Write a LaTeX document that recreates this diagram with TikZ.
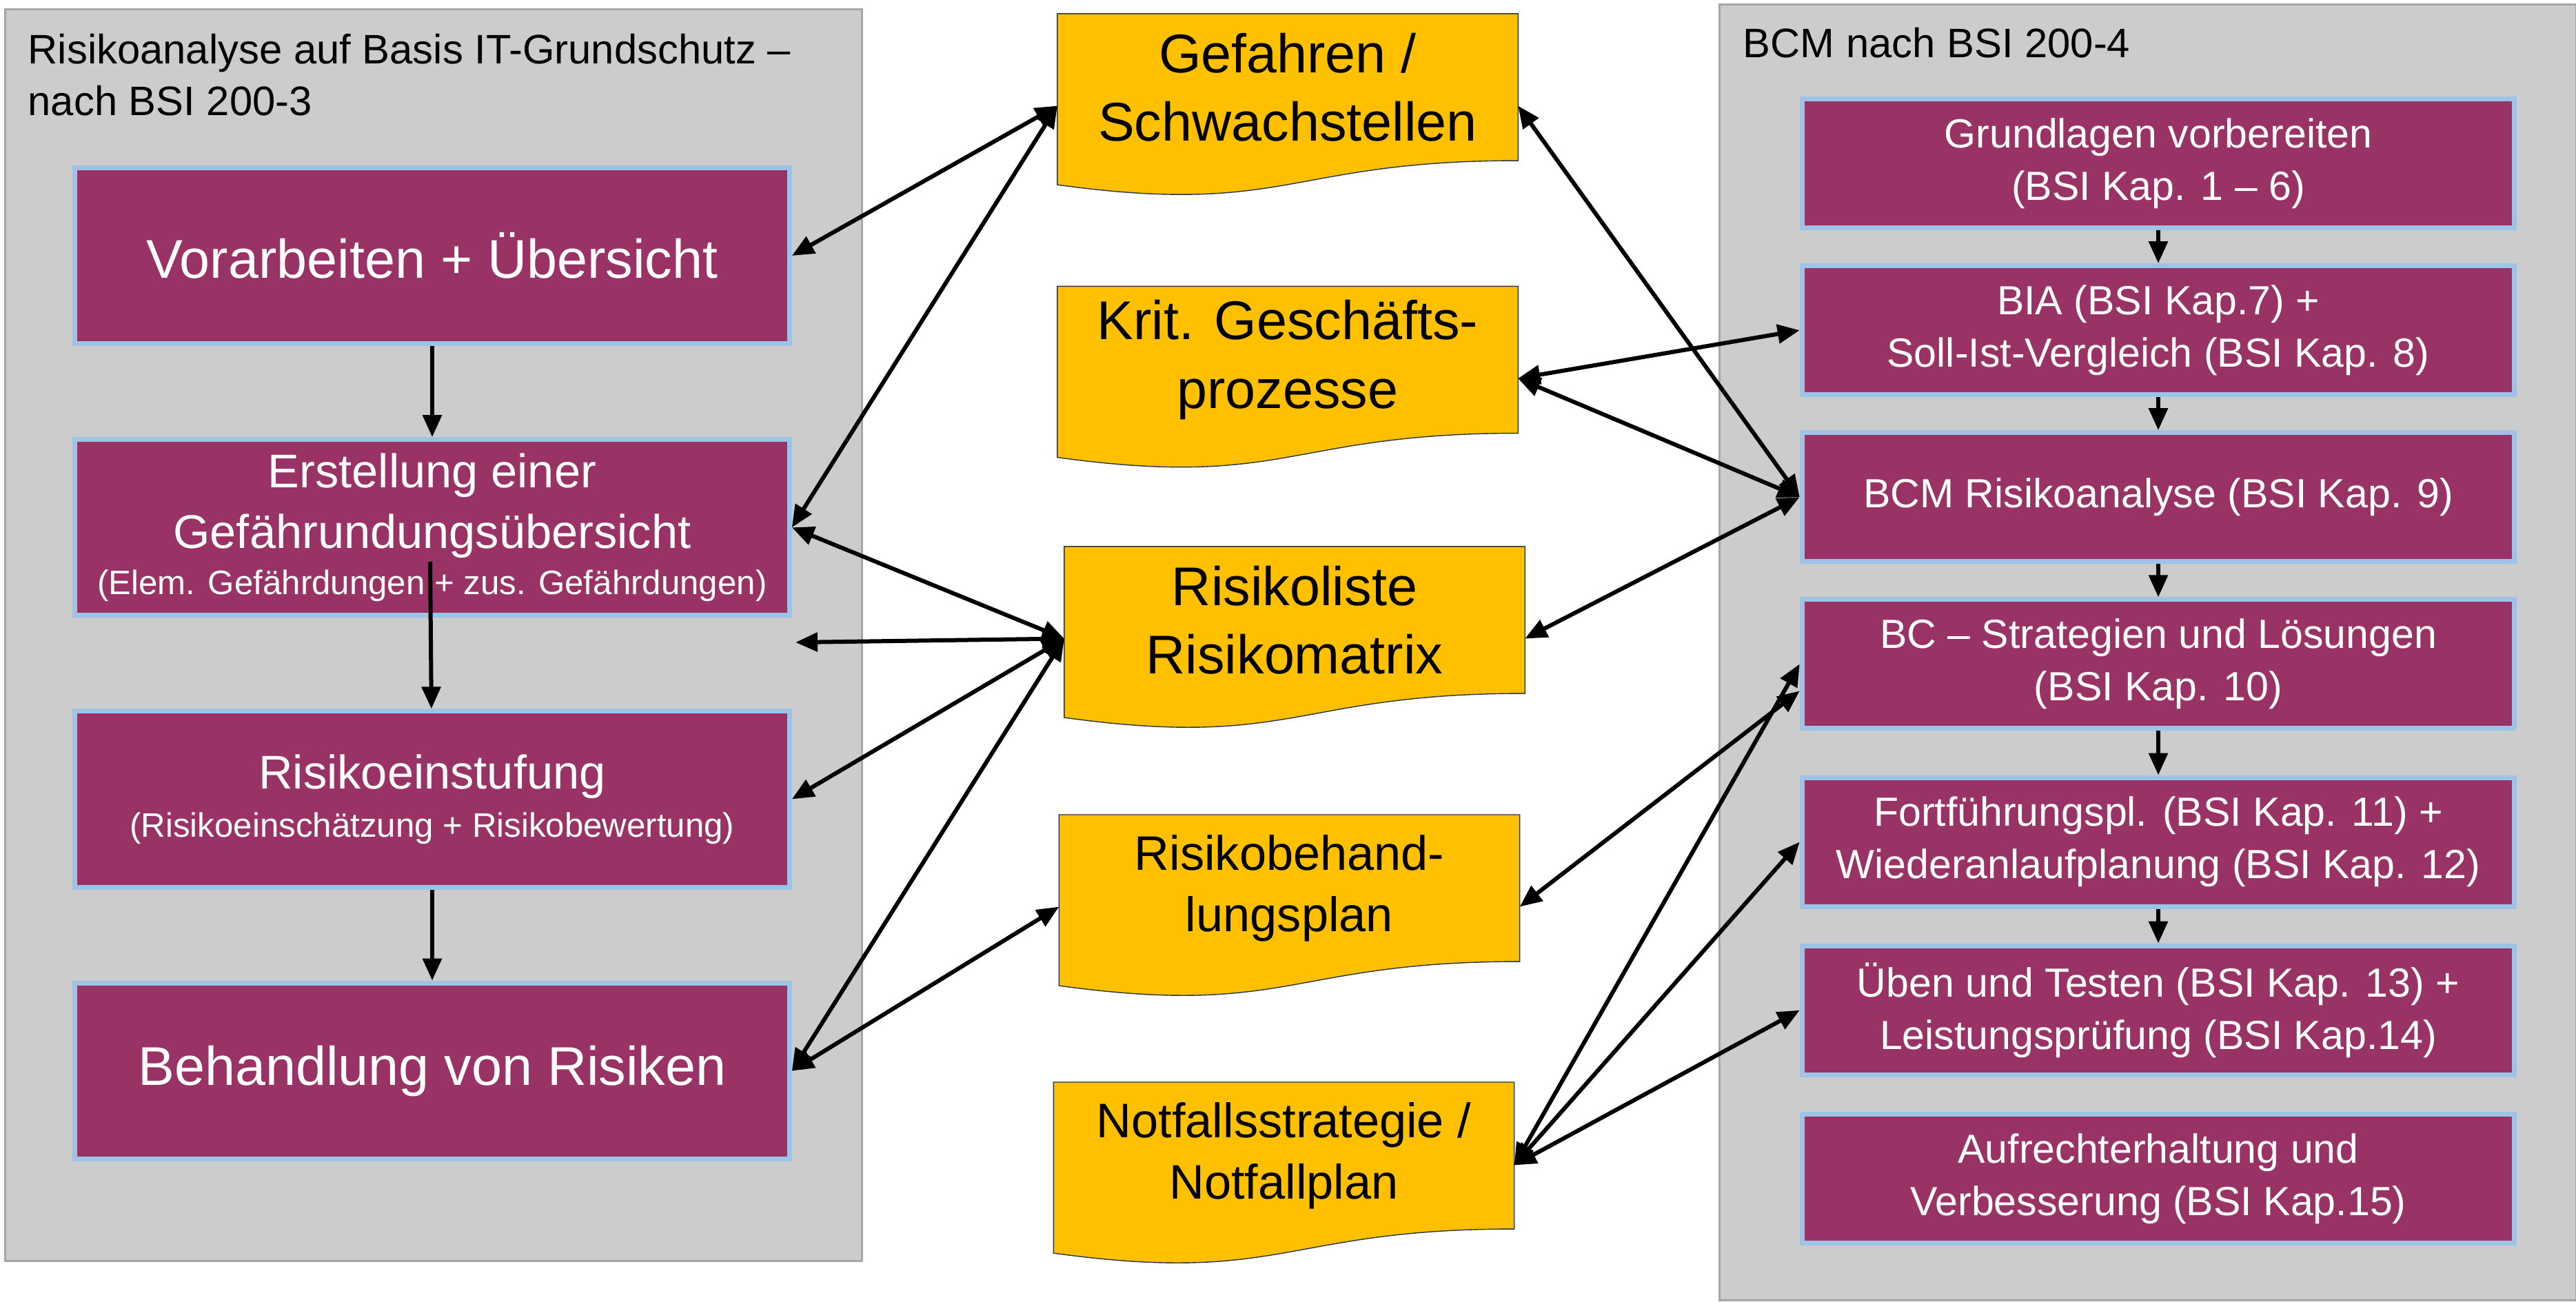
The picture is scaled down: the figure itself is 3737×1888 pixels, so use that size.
\documentclass[tikz,border=0pt]{standalone}
\usepackage{fontspec}
\setmainfont{Liberation Sans}
\usetikzlibrary{arrows.meta,positioning,calc,backgrounds}
\definecolor{phasecol}{RGB}{153,51,102}
\definecolor{phaseline}{RGB}{157,195,230}
\definecolor{grpfill}{RGB}{204,204,204}
\definecolor{grpline}{RGB}{166,166,166}
\definecolor{doccol}{RGB}{255,192,0}
\definecolor{docline}{RGB}{38,52,78}
\tikzset{
  grp/.style       = {rectangle, draw=grpline, line width=0.03cm, fill=grpfill,
                      anchor=north west, inner sep=0pt, minimum width=12.42cm,
                      minimum height=#1},
  grptitle/.style  = {anchor=north west, align=left, inner sep=0pt,
                      font=\fontsize{17}{21.6}\selectfont},
  phase/.style     = {rectangle, draw=phaseline, line width=0.07cm, fill=phasecol,
                      text=white, align=center, minimum width=10.36cm,
                      minimum height=2.55cm, font=\fontsize{#1}{25}\selectfont},
  bcmstep/.style   = {rectangle, draw=phaseline, line width=0.07cm, fill=phasecol,
                      text=white, align=center, minimum width=10.33cm,
                      minimum height=1.87cm, font=\fontsize{16.8}{21.6}\selectfont},
  doc/.style       = {rectangle, minimum width=6.68cm, minimum height=2.13cm,
                      outer sep=0pt, inner sep=0pt, align=center,
                      font=\fontsize{22.5}{28.2}\selectfont},
  doc small/.style = {doc, font=\fontsize{20}{25.3}\selectfont},
  docshape/.style  = {fill=doccol, draw=docline, line width=0.4pt},
  flow/.style      = {->, line width=0.06cm},
  dflow/.style     = {<->, line width=0.06cm},
}
\newcommand{\subtxt}{\fontsize{14}{19}\selectfont}

\begin{document}
\begin{tikzpicture}[x=0.01cm, y=-0.01cm, >={Triangle[length=0.32cm,width=0.27cm]},
                    node distance=1.32cm]
  \useasboundingbox (0,0) rectangle (3737,1888);

  % left column: risk analysis
  \node[phase=22.5] (vor) at (627,371) {Vorarbeiten + Übersicht};
  \node[phase=19.5, below=of vor] (erst)
       {Erstellung einer\\ Gefährundungsübersicht\\[-6pt]
        {\subtxt (Elem. Gefährdungen + zus. Gefährdungen)}};
  \node[phase=19.5, below=of erst] (ein)
       {Risikoeinstufung\\[-5pt] {\subtxt (Risikoeinschätzung + Risikobewertung)}};
  \node[phase=22.5, below=of ein] (beh) {Behandlung von Risiken};
  \coordinate (erstin) at (624,815);
  \coordinate (frei) at (1154,932);

  % middle: documents
  \node[doc] (gef)  at (1868,126.5) {Gefahren /\\ Schwachstellen};
  \node[doc] (krit) at (1868,522)   {Krit. Geschäfts-\\ prozesse};
  \node[doc] (rl)   at (1878,899.5) {Risikoliste\\ Risikomatrix};
  \node[doc small] (rbp) at (1870.5,1288.5) {Risikobehand-\\ lungsplan};
  \node[doc small] (nfp) at (1862.5,1676.5) {Notfallsstrategie /\\ Notfallplan};

  % right column: BCM
  \node[bcmstep] (grl) at (3131,237) {Grundlagen vorbereiten\\ (BSI Kap. 1 – 6)};
  \node[bcmstep, below=0.48cm of grl] (bia)
       {BIA (BSI Kap.7) +\\ Soll-Ist-Vergleich (BSI Kap. 8)};
  \node[bcmstep, below=0.48cm of bia] (bcm) {BCM Risikoanalyse (BSI Kap. 9)};
  \node[bcmstep, below=0.48cm of bcm] (bc)
       {BC – Strategien und Lösungen\\ (BSI Kap. 10)};
  \node[bcmstep, below=0.64cm of bc] (fort)
       {Fortführungspl. (BSI Kap. 11) +\\ Wiederanlaufplanung (BSI Kap. 12)};
  \node[bcmstep, below=0.5cm of fort] (ueb)
       {Üben und Testen (BSI Kap. 13) +\\ Leistungsprüfung (BSI Kap.14)};
  \node[bcmstep, below=0.5cm of ueb] (auf)
       {Aufrechterhaltung und\\ Verbesserung (BSI Kap.15)};

  \begin{scope}[on background layer]
    \node[grp=18.15cm] (lgrp) at (6,12) {};
    \node[grp=18.79cm] (rgrp) at (2493,5) {};
    \foreach \d in {gef,krit,rl,rbp,nfp}
      \draw[docshape] (\d.north west) -- (\d.north east) -- (\d.south east)
        .. controls (\d.south) and ($(\d.south)+(0,81)$) .. ($(\d.south west)+(0,35)$)
        -- cycle;
  \end{scope}
  \node[grptitle] (ltitle) at (40,48)
       {Risikoanalyse auf Basis IT-Grundschutz –\\ nach BSI 200-3};
  \node[grptitle] (rtitle) at (2528,39) {BCM nach BSI 200-4};

  % flow inside the columns
  \draw[flow] (vor) -- (erst);
  \draw[flow] (erstin) -- (ein);
  \draw[flow] (ein) -- (beh);
  \foreach \a/\b in {grl/bia, bia/bcm, bcm/bc, bc/fort, fort/ueb}
    \draw[flow] (\a) -- (\b);

  % links to the documents
  \draw[dflow] (vor.east)  -- ([yshift=-2.7mm]gef.west);
  \draw[dflow] (erst.east) -- ([yshift=-2.7mm]gef.west);
  \foreach \a in {erst.east, frei, ein.east, beh.east}
    \draw[dflow] (\a) -- ([yshift=-2.7mm]rl.west);
  \draw[dflow] (beh.east)  -- ([yshift=-2.7mm]rbp.west);

  \draw[dflow] ([yshift=-2.7mm]gef.east)  -- (bcm.west);
  \draw[dflow] ([yshift=-2.7mm]krit.east) -- (bia.west);
  \draw[dflow] ([yshift=-2.7mm]krit.east) -- (bcm.west);
  \draw[dflow] ([yshift=-2.7mm]rl.east)   -- (bcm.west);
  \draw[dflow] ([yshift=-2.7mm]rbp.east)  -- ([yshift=-3.9mm]bc.west);
  \foreach \b in {bc, fort, ueb}
    \draw[dflow] ([yshift=-1.4mm]nfp.east) -- (\b.west);
\end{tikzpicture}
\end{document}
